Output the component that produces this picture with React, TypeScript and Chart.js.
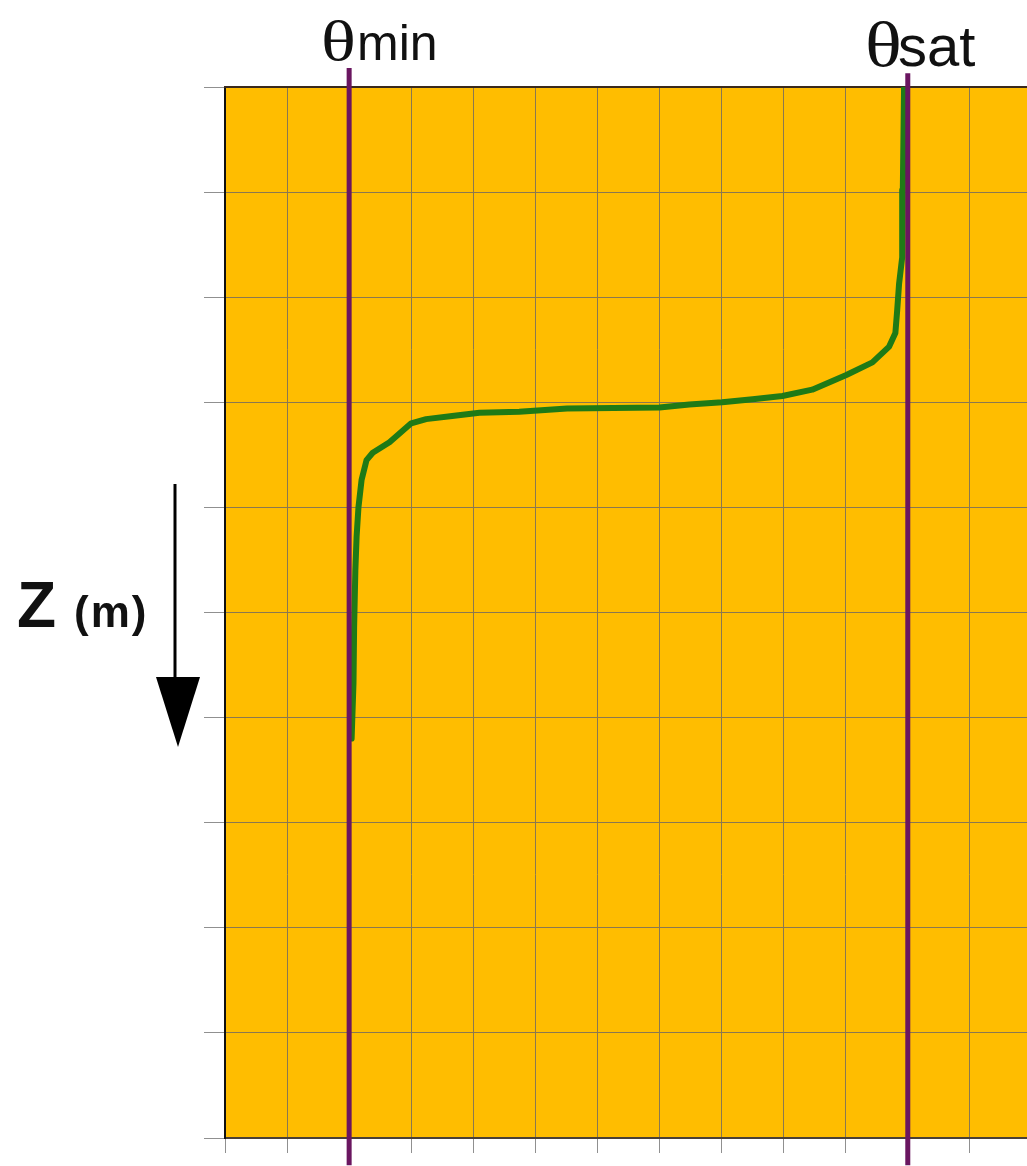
import React, { useEffect, useRef } from "react";
import { Chart, registerables } from "chart.js";

Chart.register(...registerables);

// Soil moisture profile: water content theta (x, grid units) vs depth Z (y, grid units, downward)
const thetaCurve = [10.94, 10.92, 10.91, 10.86, 10.83, 10.8, 10.7, 10.43, 10.01, 9.46, 8.98, 8.5, 8.01, 7.48, 7.0, 5.51, 4.74, 4.1, 3.66, 3.24, 3.0, 2.65, 2.38, 2.28, 2.2, 2.15, 2.12, 2.1, 2.08, 2.07, 2.04];
const depthCurve = [0, 0.98, 1.62, 1.87, 2.12, 2.34, 2.47, 2.62, 2.74, 2.88, 2.94, 2.97, 3.0, 3.02, 3.05, 3.06, 3.09, 3.1, 3.13, 3.16, 3.2, 3.38, 3.48, 3.55, 3.74, 4.0, 4.28, 4.6, 5.14, 5.67, 6.2];

const thetaMin = 2;
const thetaSat = 11;
const thetaMinLineDepth = [-0.18, 10.26];
const thetaSatLineDepth = [-0.13, 10.26];

const xMin = 0;
const xMax = 14;
const zMin = 0;
const zMax = 10;

const plotBgPlugin = {
  id: "plotBg",
  beforeDraw(chart: any) {
    const { ctx, chartArea } = chart;
    ctx.save();
    ctx.fillStyle = "#FFBD00";
    ctx.fillRect(chartArea.left, chartArea.top, chartArea.right - chartArea.left, chartArea.bottom - chartArea.top);
    ctx.restore();
  },
  beforeDatasetsDraw(chart: any) {
    const { ctx, chartArea } = chart;
    ctx.save();
    ctx.strokeStyle = "#3a2a1c";
    ctx.lineWidth = 2;
    ctx.beginPath();
    ctx.moveTo(chartArea.left - 1, chartArea.top);
    ctx.lineTo(chartArea.right, chartArea.top);
    ctx.stroke();
    ctx.restore();
  },
};

export default function App() {
  const ref = useRef<HTMLCanvasElement | null>(null);

  useEffect(() => {
    if (!ref.current) return;
    const curve = thetaCurve.map((t, i) => ({ x: t, y: depthCurve[i] }));
    const chart = new Chart(ref.current, {
      type: "scatter",
      data: {
        datasets: [
          {
            label: "θmin",
            data: thetaMinLineDepth.map((z) => ({ x: thetaMin, y: z })),
            showLine: true,
            borderColor: "#6a1660",
            borderWidth: 5,
            pointRadius: 0,
            clip: false as any,
          },
          {
            label: "θsat",
            data: thetaSatLineDepth.map((z) => ({ x: thetaSat, y: z })),
            showLine: true,
            borderColor: "#6a1660",
            borderWidth: 5,
            pointRadius: 0,
            clip: false as any,
          },
          {
            label: "θ(z)",
            data: curve,
            showLine: true,
            borderColor: "#1f7a16",
            borderWidth: 6,
            pointRadius: 0,
            tension: 0,
            borderJoinStyle: "round",
            borderCapStyle: "round",
          },
        ],
      },
      plugins: [plotBgPlugin],
      options: {
        responsive: false,
        animation: false,
        layout: { padding: { left: 204, top: 87, bottom: 13, right: 0 } },
        plugins: { legend: { display: false }, tooltip: { enabled: false } },
        scales: {
          x: {
            type: "linear",
            min: xMin,
            max: xMax,
            position: "bottom",
            ticks: { display: false, stepSize: 1 },
            grid: { color: "#8a7850", lineWidth: 1, drawTicks: true, tickLength: 15, tickColor: "#909090" },
            border: { display: true, color: "#4a4036", width: 2 },
          },
          y: {
            type: "linear",
            min: zMin,
            max: zMax,
            reverse: true,
            ticks: { display: false, stepSize: 1 },
            grid: { color: "#8a7850", lineWidth: 1, drawTicks: true, tickLength: 21, tickColor: "#909090" },
            border: { display: true, color: "#111111", width: 2 },
          },
        },
      },
    });
    return () => chart.destroy();
  }, []);

  const sans = "'Liberation Sans', Arial, sans-serif";
  const serif = "'Liberation Serif', serif";

  return (
    <div style={{ position: "fixed", left: 0, top: 0, width: 1027, height: 1166, overflow: "hidden", background: "#fff" }}>
      <canvas ref={ref} width={1094} height={1166} style={{ position: "absolute", left: 0, top: 0, width: 1094, height: 1166 }} />
      <svg width={1027} height={1166} style={{ position: "absolute", left: 0, top: 0, pointerEvents: "none" }}>
        <text transform="translate(321,60) scale(1.3,1)" x={0} y={0} fill="#111" fontFamily={serif} fontSize={56}>θ</text>
        <text x={357} y={60} fill="#111" fontFamily={sans} fontSize={50}>min</text>
        <text transform="translate(865,66) scale(1.2,1)" x={0} y={0} fill="#111" fontFamily={serif} fontSize={64}>θ</text>
        <text x={898} y={66} fill="#111" fontFamily={sans} fontSize={58}>sat</text>
        <text y={627} fill="#111" fontFamily={sans} fontWeight="bold">
          <tspan x={17} fontSize={64}>Z</tspan>
          <tspan x={74} fontSize={44} letterSpacing={2}>(m)</tspan>
        </text>
        <line x1={175} y1={484} x2={175} y2={680} stroke="#000" strokeWidth={3} />
        <polygon points="156,677 200,677 178,747" fill="#000" />
      </svg>
    </div>
  );
}
